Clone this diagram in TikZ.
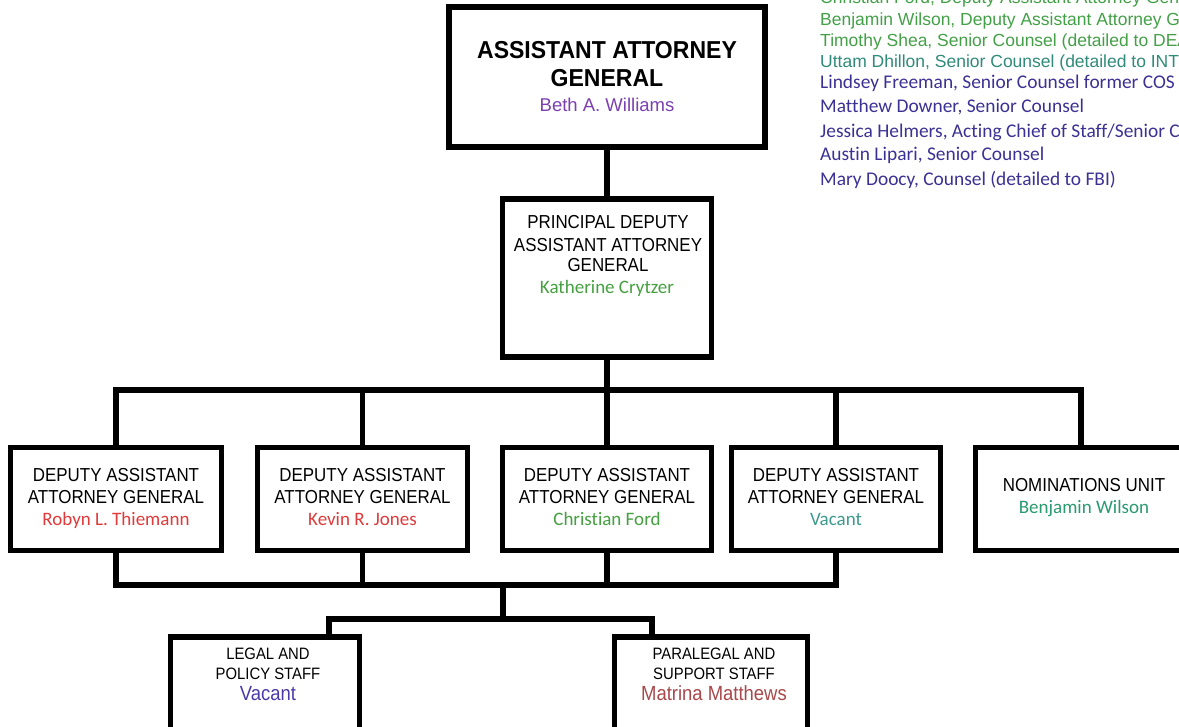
\documentclass[tikz,border=0pt]{standalone}
\usepackage{fontspec}
\setmainfont{Liberation Sans}
\newfontfamily\narrowfont[FakeStretch=0.9]{Liberation Sans}
\newfontfamily\boldnarrowfont[FakeStretch=0.94]{Liberation Sans Bold}
\newfontfamily\calfont[Ligatures=CommonOff]{Carlito}
\usetikzlibrary{calc}

\definecolor{listgreen}{HTML}{43A047}
\definecolor{listteal}{HTML}{2F8A7A}
\definecolor{listblue}{HTML}{3B3194}
\definecolor{namepurple}{HTML}{7B3FB0}
\definecolor{namegreen}{HTML}{45A040}
\definecolor{namered}{HTML}{E03A3A}
\definecolor{nameteal}{HTML}{3D9A8C}
\definecolor{nameseagreen}{HTML}{2A9A70}
\definecolor{nameindigo}{HTML}{4A3AA8}
\definecolor{namebrown}{HTML}{A8484A}

\begin{document}
\begin{tikzpicture}[x=1pt, y=-1pt,
  box/.style={draw=black, line width=5.5pt, fill=white, inner sep=0pt},
  wire/.style={line width=5.5pt, line cap=rect},
  txt/.style={anchor=base, inner sep=0pt},
  ttl/.style={txt, font=\narrowfont\fontsize{18.8}{22}\selectfont},
  bigttl/.style={txt, font=\boldnarrowfont\fontsize{24.5}{28}\selectfont},
  smallttl/.style={txt, font=\narrowfont\fontsize{16.5}{19}\selectfont},
  cname/.style={txt, font=\calfont\fontsize{19}{22}\selectfont},
  aname/.style={txt, font=\fontsize{18.5}{22}\selectfont},
  lowname/.style={txt, font=\narrowfont\fontsize{20.5}{23}\selectfont},
  listA/.style={anchor=base west, inner sep=0pt, font=\fontsize{17.5}{21}\selectfont},
  listC/.style={anchor=base west, inner sep=0pt, font=\calfont\fontsize{19.4}{22}\selectfont, text=listblue}]

\useasboundingbox (0,0) rectangle (1179,727);
\clip (0,0) rectangle (1179,727);

% ---- boxes ----
\node[box, minimum width=316pt, minimum height=140pt] (aag)   at (607,77)  {};
\node[box, minimum width=209pt, minimum height=158pt] (pdaag) at (607,278) {};
\node[box, minimum width=211pt, minimum height=103pt] (d1) at (116,499)   {};
\node[box, minimum width=210pt, minimum height=103pt] (d2) at (362.5,499) {};
\node[box, minimum width=209pt, minimum height=103pt] (d3) at (607,499)   {};
\node[box, minimum width=209pt, minimum height=103pt] (d4) at (836,499)   {};
\node[box, minimum width=211pt, minimum height=103pt] (d5) at (1081,499)  {};
\node[box, minimum width=189pt, minimum height=126pt] (legal) at (265,700) {};
\node[box, minimum width=193pt, minimum height=126pt] (para)  at (711,700) {};

% ---- connectors ----
\coordinate (bus)  at (607,390);
\coordinate (lbus) at (503,585);
\coordinate (sbus) at (503,619);

\draw[wire] (aag.south) -- (pdaag.north);
\draw[wire] (pdaag.south) -- (bus);
\draw[wire] (d1.north) -- (d1.north |- bus) -- (d5.north |- bus) -- (d5.north);
\draw[wire] (d2.north) -- (d2.north |- bus);
\draw[wire] (d3.north) -- (d3.north |- bus);
\draw[wire] (d4.north) -- (d4.north |- bus);

\draw[wire] (d1.south) -- (d1.south |- lbus) -- (d4.south |- lbus) -- (d4.south);
\draw[wire] (d2.south) -- (d2.south |- lbus);
\draw[wire] (d3.south) -- (d3.south |- lbus);

\draw[wire] (lbus) -- (sbus);
\draw[wire] ($(legal.north)+(64,0)$) -- ($(legal.north |- sbus)+(64,0)$)
            -- ($(para.north |- sbus)+(-59,0)$) -- ($(para.north)+(-59,0)$);

% ---- box texts ----
\node[bigttl] (aag1) at (607,59) {ASSISTANT ATTORNEY};
\node[bigttl] (aag2) at (607,87) {GENERAL};
\node[aname, text=namepurple] (aag3) at (607,111.5) {Beth A. Williams};

\node[ttl] (pd1) at (608,229) {PRINCIPAL DEPUTY};
\node[ttl] (pd2) at (608,252) {ASSISTANT ATTORNEY};
\node[ttl] (pd3) at (608,272) {GENERAL};
\node[cname, text=namegreen] (pd4) at (607,294) {Katherine Crytzer};

\node[ttl] (d1a) at (116,481) {DEPUTY ASSISTANT};
\node[ttl] (d1b) at (116,503) {ATTORNEY GENERAL};
\node[cname, text=namered] (d1c) at (116,525) {Robyn L. Thiemann};

\node[ttl] (d2a) at (362.5,481) {DEPUTY ASSISTANT};
\node[ttl] (d2b) at (362.5,503) {ATTORNEY GENERAL};
\node[cname, text=namered] (d2c) at (362.5,525) {Kevin R. Jones};

\node[ttl] (d3a) at (607,481) {DEPUTY ASSISTANT};
\node[ttl] (d3b) at (607,503) {ATTORNEY GENERAL};
\node[cname, text=namegreen] (d3c) at (607,525) {Christian Ford};

\node[ttl] (d4a) at (836,481) {DEPUTY ASSISTANT};
\node[ttl] (d4b) at (836,503) {ATTORNEY GENERAL};
\node[cname, text=nameteal] (d4c) at (836,525) {Vacant};

\node[ttl] (d5a) at (1084,491) {NOMINATIONS UNIT};
\node[cname, text=nameseagreen] (d5b) at (1084,513) {Benjamin Wilson};

\node[smallttl] (lg1) at (268,659) {LEGAL AND};
\node[smallttl] (lg2) at (268,679) {POLICY STAFF};
\node[lowname, text=nameindigo] (lg3) at (268,700) {Vacant};

\node[smallttl] (pa1) at (714,659) {PARALEGAL AND};
\node[smallttl] (pa2) at (714,679) {SUPPORT STAFF};
\node[lowname, text=namebrown] (pa3) at (714,700) {Matrina Matthews};

% ---- staff list ----
\node[listA, text=listgreen] (s1) at (820,4)    {Christian Ford, Deputy Assistant Attorney General};
\node[listA, text=listgreen] (s2) at (820,25.5) {Benjamin Wilson, Deputy Assistant Attorney General};
\node[listA, text=listgreen] (s3) at (820,47)   {Timothy Shea, Senior Counsel (detailed to DEA)};
\node[listA, text=listteal]  (s4) at (820,68)   {Uttam Dhillon, Senior Counsel (detailed to INT};
\node[listC] (s5) at (820,89)    {Lindsey Freeman, Senior Counsel former COS};
\node[listC] (s6) at (820,113)   {Matthew Downer, Senior Counsel};
\node[listC] (s7) at (820,137.5) {Jessica Helmers, Acting Chief of Staff/Senior Counsel};
\node[listC] (s8) at (820,161)   {Austin Lipari, Senior Counsel};
\node[listC] (s9) at (820,185.5) {Mary Doocy, Counsel (detailed to FBI)};
\end{tikzpicture}
\end{document}
